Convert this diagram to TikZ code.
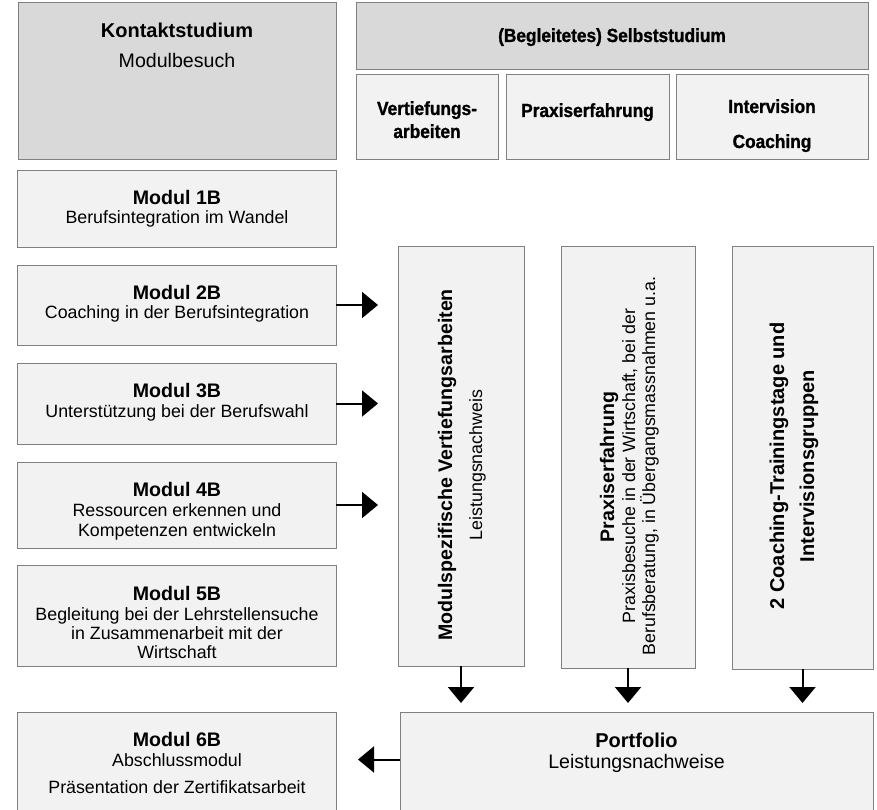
\documentclass[tikz,border=0pt]{standalone}
\usepackage{fontspec}
\setmainfont{Liberation Sans}
\newfontfamily\condfont[FakeStretch=0.91,FakeBold=1.2]{Liberation Sans}
\usetikzlibrary{arrows.meta,calc}
\definecolor{hdr}{HTML}{D9D9D9}
\definecolor{lite}{HTML}{F2F2F2}
\definecolor{edge}{HTML}{808080}
\tikzset{
  box/.style={draw=edge, line width=1pt, fill=lite, anchor=north west, inner sep=0pt, outer sep=0pt},
  hbox/.style={box, fill=hdr},
  tb/.style={anchor=base, inner sep=0pt, font=\fontsize{19.6pt}{20pt}\selectfont\bfseries},
  tbb/.style={anchor=base, inner sep=0pt, font=\fontsize{20pt}{20pt}\selectfont\bfseries},
  tr/.style={anchor=base, inner sep=0pt, font=\fontsize{17.8pt}{20pt}\selectfont},
  trr/.style={anchor=base, inner sep=0pt, font=\fontsize{19.6pt}{20pt}\selectfont},
  th/.style={anchor=base, inner sep=0pt, font=\fontsize{19pt}{20pt}\selectfont\condfont\bfseries},
  arr/.style={line width=2pt, -{Triangle[length=16pt,width=26pt]}}
}
\begin{document}
\begin{tikzpicture}[x=1pt,y=-1pt]
\useasboundingbox (0,0) rectangle (877,810);
% header boxes
\node[hbox, minimum width=318pt, minimum height=157pt] (kontakt) at (18,3) {};
\node[hbox, minimum width=512pt, minimum height=67pt] (selbst) at (356,3) {};
\node[box, minimum width=142pt, minimum height=85pt] (sv) at (356,75) {};
\node[box, minimum width=163pt, minimum height=85pt] (sp) at (506,75) {};
\node[box, minimum width=192pt, minimum height=85pt] (si) at (676,75) {};
% module boxes
\node[box, minimum width=319pt, minimum height=76pt] (m1) at (17,171) {};
\node[box, minimum width=319pt, minimum height=80pt] (m2) at (17,265) {};
\node[box, minimum width=319pt, minimum height=81pt] (m3) at (17,363) {};
\node[box, minimum width=319pt, minimum height=86pt] (m4) at (17,462) {};
\node[box, minimum width=319pt, minimum height=101pt] (m5) at (17,565) {};
\node[box, minimum width=319pt, minimum height=105pt] (m6) at (17,712) {};
% vertical boxes
\node[box, minimum width=126pt, minimum height=420pt] (v1) at (398,246) {};
\node[box, minimum width=134pt, minimum height=422pt] (v2) at (561,246) {};
\node[box, minimum width=141pt, minimum height=423pt] (v3) at (732,246) {};
\node[box, minimum width=473pt, minimum height=105pt] (port) at (400,712) {};
% header texts
\node[tbb] (kontakt1) at (177,38) {Kontaktstudium};
\node[trr] (kontakt2) at (177,68) {Modulbesuch};
\node[th] (selbst1) at (612,42) {(Begleitetes) Selbststudium};
\node[th] (sv1) at (427,115) {Vertiefungs-};
\node[th] (sv2) at (427,138) {arbeiten};
\node[th] (sp1) at (587.5,117) {Praxiserfahrung};
\node[th] (si1) at (772,113) {Intervision};
\node[th] (si2) at (772,148) {Coaching};
% module texts
\node[tb] (m1a) at (177,205) {Modul 1B};
\node[tr] (m1b) at (177,224) {Berufsintegration im Wandel};
\node[tb] (m2a) at (177,299) {Modul 2B};
\node[tr] (m2b) at (177,318) {Coaching in der Berufsintegration};
\node[tb] (m3a) at (177,397) {Modul 3B};
\node[tr] (m3b) at (177,417) {Unterstützung bei der Berufswahl};
\node[tb] (m4a) at (177,496) {Modul 4B};
\node[tr] (m4b) at (177,516) {Ressourcen erkennen und};
\node[tr] (m4c) at (177,536) {Kompetenzen entwickeln};
\node[tb] (m5a) at (177,600) {Modul 5B};
\node[tr] (m5b) at (177,620) {Begleitung bei der Lehrstellensuche};
\node[tr] (m5c) at (177,639) {in Zusammenarbeit mit der};
\node[tr] (m5d) at (177,658) {Wirtschaft};
\node[tb] (m6a) at (177,746) {Modul 6B};
\node[tr] (m6b) at (177,766) {Abschlussmodul};
\node[tr] (m6c) at (177,793) {Präsentation der Zertifikatsarbeit};
% rotated texts
\node[tb, rotate=90] (v1a) at (452,465) {Modulspezifische Vertiefungsarbeiten};
\node[tr, rotate=90] (v1b) at (482,465) {Leistungsnachweis};
\node[tb, rotate=90] (v2a) at (614,467) {Praxiserfahrung};
\node[tr, rotate=90] (v2b) at (635,466) {Praxisbesuche in der Wirtschaft, bei der};
\node[tr, rotate=90] (v2c) at (655,466) {Berufsberatung, in Übergangsmassnahmen u.a.};
\node[tbb, rotate=90] (v3a) at (784,466) {2 Coaching-Trainingstage und};
\node[tbb, rotate=90] (v3b) at (814,466) {Intervisionsgruppen};
% portfolio texts
\node[tbb] (porta) at (636.5,747) {Portfolio};
\node[trr] (portb) at (636.5,768) {Leistungsnachweise};
% arrows
\draw[arr, shorten >=20pt] (m2.east) -- (m2.east -| v1.west);
\draw[arr, shorten >=20pt] (m3.east) -- (m3.east -| v1.west);
\draw[arr, shorten >=20pt] (m4.east) -- (m4.east -| v1.west);
\draw[arr, shorten >=9pt] (v1.south) -- (v1.south |- port.north);
\draw[arr, shorten >=9pt] (v2.south) -- (v2.south |- port.north);
\draw[arr, shorten >=9pt] (v3.south) -- (v3.south |- port.north);
\draw[arr, shorten >=22pt] ([yshift=5pt]port.west) -- ([yshift=5pt]port.west -| m6.east);
\end{tikzpicture}
\end{document}
